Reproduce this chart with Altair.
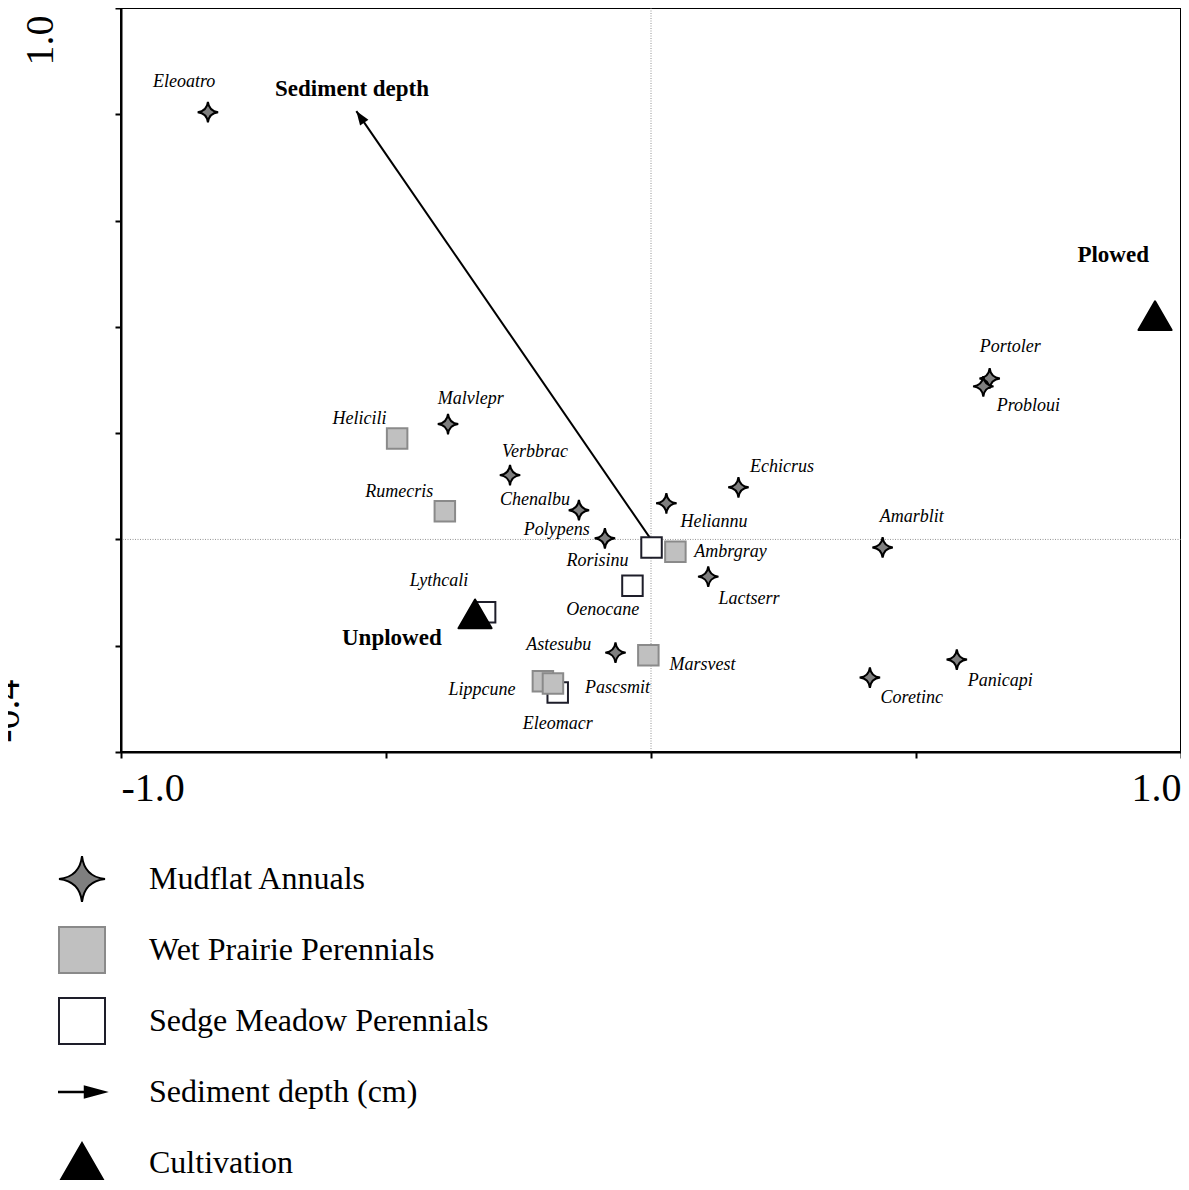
import altair as alt
import pandas as pd

# ---------------- data ----------------
groups = ["Mudflat Annuals", "Wet Prairie Perennials", "Sedge Meadow Perennials",
          "Sediment depth (cm)", "Cultivation"]

mud_names = ["Eleoatro", "Malvlepr", "Verbbrac", "Chenalbu", "Polypens", "Heliannu", "Echicrus",
             "Lactserr", "Amarblit", "Astesubu", "Coretinc", "Panicapi", "Portoler", "Probloui"]
mud_x = [-0.836, -0.383, -0.266, -0.136, -0.087, 0.029, 0.165, 0.108, 0.437, -0.067, 0.413, 0.577, 0.639, 0.627]
mud_y = [0.804, 0.217, 0.121, 0.055, 0.002, 0.068, 0.098, -0.070, -0.015, -0.213, -0.260, -0.226, 0.303, 0.288]
mud_lx = [-0.881, -0.340, -0.219, -0.219, -0.178, 0.119, 0.247, 0.185, 0.492, -0.174, 0.492, 0.659, 0.678, 0.712]
mud_ly = [0.861, 0.264, 0.164, 0.075, 0.017, 0.032, 0.137, -0.113, 0.043, -0.198, -0.299, -0.267, 0.363, 0.252]

wet_names = ["Helicili", "Rumecris", "Ambrgray", "Marsvest", "Lippcune", "Pascsmit"]
wet_x = [-0.479, -0.389, 0.046, -0.005, -0.204, -0.185]
wet_y = [0.190, 0.053, -0.023, -0.218, -0.267, -0.271]
wet_lx = [-0.550, -0.475, 0.150, 0.097, -0.319, -0.063]
wet_ly = [0.226, 0.089, -0.024, -0.237, -0.284, -0.279]

sedge_names = ["Rorisinu", "Oenocane", "Lythcali", "Eleomacr"]
sedge_x = [0.001, -0.035, -0.313, -0.176]
sedge_y = [-0.015, -0.087, -0.137, -0.288]
sedge_lx = [-0.101, -0.091, -0.400, -0.176]
sedge_ly = [-0.040, -0.132, -0.079, -0.348]

cult_names = ["Plowed", "Unplowed"]
cult_x = [0.951, -0.332]
cult_y = [0.421, -0.140]
cult_lx = [0.872, -0.489]
cult_ly = [0.535, -0.185]

env_name = ["Sediment depth"]
env_x = [-0.556]
env_y = [0.806]
env_lx = [-0.564]
env_ly = [0.848]

x_ticks = [-1.0, -0.5, 0.0, 0.5, 1.0]
y_ticks = [-0.4, -0.2, 0.0, 0.2, 0.4, 0.6, 0.8, 1.0]

# ---------------- tables ----------------
species = pd.DataFrame({
    "name": sedge_names + wet_names + mud_names,
    "x": sedge_x + wet_x + mud_x,
    "y": sedge_y + wet_y + mud_y,
    "lx": sedge_lx + wet_lx + mud_lx,
    "ly": sedge_ly + wet_ly + mud_ly,
    "group": [groups[2]] * len(sedge_names) + [groups[1]] * len(wet_names) + [groups[0]] * len(mud_names),
})
cult = pd.DataFrame({"name": cult_names, "x": cult_x, "y": cult_y, "lx": cult_lx, "ly": cult_ly,
                     "group": [groups[4]] * len(cult_names)})
env = pd.DataFrame({"name": env_name, "x0": [0.0], "y0": [0.0], "x": env_x, "y": env_y,
                    "lx": env_lx, "ly": env_ly})
bold = pd.concat([cult[["name", "lx", "ly"]], env[["name", "lx", "ly"]]])
zero = pd.DataFrame({"v": [0.0]})

# ---------------- styling ----------------
FONT = "Liberation Serif"
PADB = "M0,-1L0,-1M0,1L0,1"  # zero-length pieces: equal symbol bounds in the legend
STAR = "M0,-1Q0.1,-0.1 1,0Q0.1,0.1 0,1Q-0.1,0.1 -1,0Q-0.1,-0.1 0,-1Z"
TRI = "M0,-0.866L1,0.866L-1,0.866Z" + PADB
ARROW_LEG = "M-1,-0.012L0.12,-0.012L0.12,-0.24L1,0L0.12,0.24L0.12,0.012L-1,0.012Z" + PADB
HEAD = "M0,0L0.36,1L-0.36,1Z"

xs = alt.Scale(domain=[-1, 1], nice=False, zero=False)
ys = alt.Scale(domain=[-0.4, 1.0], nice=False, zero=False)

xaxis = alt.Axis(values=x_ticks, title=None, grid=False,
                 labelExpr="datum.value < -0.9 ? '-1.0' : (datum.value > 0.9 ? '1.0' : '')",
                 labelFont=FONT, labelFontSize=40, labelColor="black", labelFlush=True,
                 labelBaseline="alphabetic", labelPadding=42, labelOverlap=False,
                 tickSize=6, tickWidth=2, tickColor="black", domainColor="black", domainWidth=2)
yaxis = alt.Axis(values=y_ticks, title=None, grid=False,
                 labelExpr="datum.value > 0.9 ? '1.0' : (datum.value < -0.3 ? '-0.4' : '')",
                 labelFont=FONT, labelFontSize=40, labelColor="black", labelAngle=270,
                 labelAlign="right", labelBaseline="alphabetic", labelOverlap=False,
                 labelOffset={"condition": {"test": "datum.value > 0", "value": 7}, "value": -73},
                 labelPadding={"condition": {"test": "datum.value > 0", "value": 63}, "value": 97},
                 tickSize=6, tickWidth=2, tickColor="black", domainColor="black", domainWidth=2)


def X(f):
    return alt.X(f"{f}:Q", scale=xs, axis=xaxis, title=None)


def Y(f):
    return alt.Y(f"{f}:Q", scale=ys, axis=yaxis, title=None)


legend = alt.Legend(title=None, orient="none", legendX=-63, legendY=847, direction="vertical",
                    symbolSize=2116, symbolStrokeWidth=2, labelFont=FONT, labelFontSize=32,
                    labelColor="black", labelOffset=43, rowPadding=17, labelLimit=0)
shape_scale = alt.Scale(domain=groups, range=[STAR, "square", "square", ARROW_LEG, TRI])
fill_scale = alt.Scale(domain=groups, range=["#7f7f7f", "#c0c0c0", "#ffffff", "#000000", "#000000"])
stroke_scale = alt.Scale(domain=groups, range=["#000000", "#8a8a8a", "#1e1e2a", "#000000", "#000000"])


def group_enc():
    return dict(
        shape=alt.Shape("group:N", scale=shape_scale, legend=legend),
        fill=alt.Fill("group:N", scale=fill_scale, legend=legend),
        stroke=alt.Stroke("group:N", scale=stroke_scale, legend=legend),
    )


zero_x = alt.Chart(zero).mark_rule(color="#777777", strokeWidth=0.8, strokeDash=[1, 1.5]).encode(x=X("v"))
zero_y = alt.Chart(zero).mark_rule(color="#777777", strokeWidth=0.8, strokeDash=[1, 1.5]).encode(y=Y("v"))

arrow_line = alt.Chart(env).mark_rule(color="black", strokeWidth=2).encode(
    x=X("x0"), y=Y("y0"), x2="x:Q", y2="y:Q")
arrow_head = alt.Chart(env).mark_point(shape=HEAD, filled=True, color="black", size=784,
                                       angle=325.5, opacity=1, strokeWidth=0).encode(x=X("x"), y=Y("y"))

pts = alt.Chart(species).mark_point(filled=True, size=420, strokeWidth=2, opacity=1).encode(
    x=X("x"), y=Y("y"), **group_enc())
tri = alt.Chart(cult).mark_point(filled=True, size=1100, strokeWidth=2, strokeJoin="round", opacity=1).encode(
    x=X("x"), y=Y("y"), **group_enc())

sp_text = alt.Chart(species).mark_text(font=FONT, fontStyle="italic", fontSize=18, color="black",
                                       align="center", baseline="middle").encode(
    x=X("lx"), y=Y("ly"), text="name:N")
bold_text = alt.Chart(bold).mark_text(font=FONT, fontWeight="bold", fontSize=23, color="black",
                                      align="center", baseline="middle").encode(
    x=X("lx"), y=Y("ly"), text="name:N")

chart = alt.layer(zero_x, zero_y, arrow_line, pts, arrow_head, tri, sp_text, bold_text).properties(
    width=1060, height=744,
    autosize=alt.AutoSizeParams(type="none"),
    padding={"left": 113, "top": 0, "right": 0, "bottom": 428},
).configure(
    background="white",
    view=alt.ViewConfig(stroke="black", strokeWidth=2),
)

chart.save("out.html", embed_options={"renderer": "svg", "actions": False})
